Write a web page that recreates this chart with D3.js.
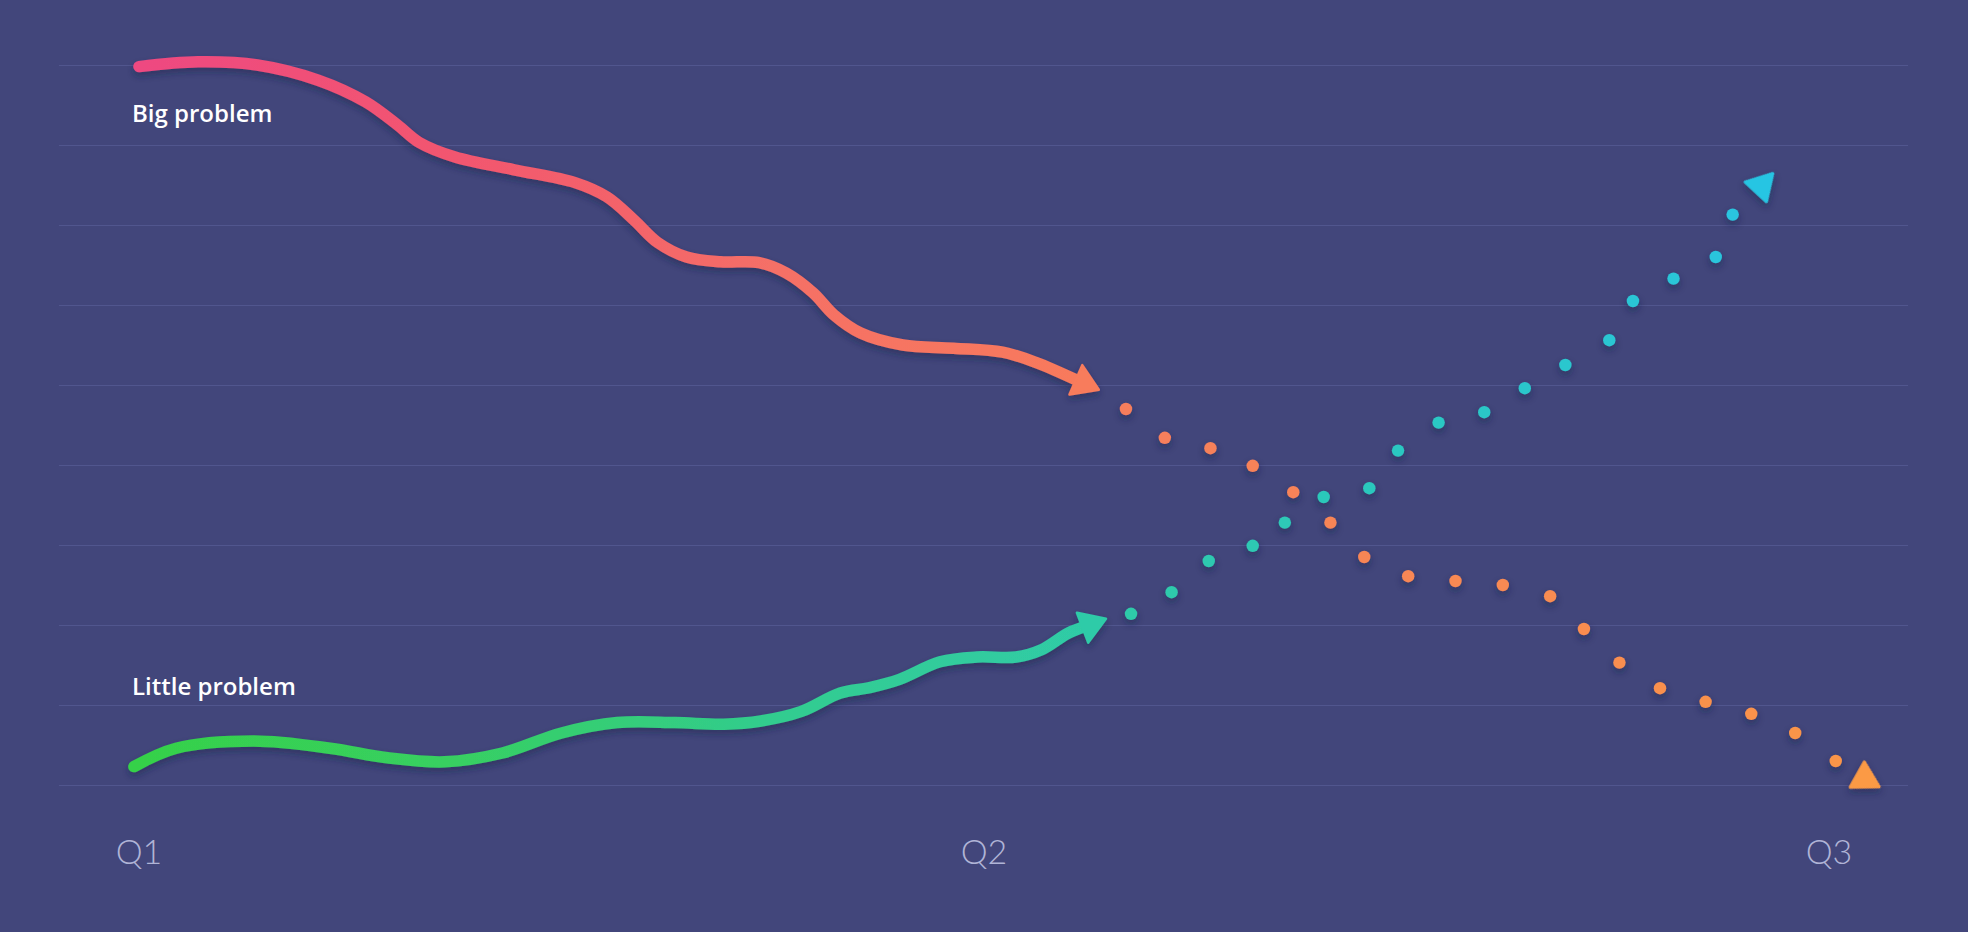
<!DOCTYPE html>
<html>
<head>
<meta charset="utf-8">
<script src="https://cdn.jsdelivr.net/npm/d3@7"></script>
<style>
  html, body { margin: 0; padding: 0; background: #42467b; }
  svg { display: block; }
</style>
</head>
<body>
<svg id="chart" width="1968" height="932"></svg>
<script>
// ---------- DATA ----------
const quarterLabels = ["Q1", "Q2", "Q3"];
const quarterValues = [0, 50, 100];
const gridValues = [0, 10, 20, 30, 40, 50, 60, 70, 80, 90];

const seriesNames = ["Big problem", "Little problem"];

// solid (past) trend of "Big problem"
const bigX = [0, 3.5, 7.0, 10.6, 13.4, 15.3, 16.6, 18.7, 22.2, 25.8, 27.7, 29.3, 30.7, 32.4, 34.4, 36.7, 38.3, 39.9, 41.1, 42.7, 45.2, 48.2, 51.1, 53.1, 55.6];
const bigY = [89.8, 90.4, 90.0, 88.1, 85.4, 82.5, 80.3, 78.5, 76.9, 75.3, 73.5, 70.6, 67.8, 66.0, 65.4, 65.3, 64.0, 61.5, 58.8, 56.5, 55.0, 54.6, 54.1, 52.8, 50.5];

// solid (past) trend of "Little problem"
const littleX = [-0.3, 2.2, 6.8, 11.3, 14.7, 18.1, 21.5, 25.0, 28.3, 31.7, 34.6, 36.8, 39.2, 41.5, 43.3, 45.0, 47.4, 49.6, 51.9, 53.4, 55.0, 56.0];
const littleY = [2.3, 4.6, 5.5, 4.6, 3.4, 2.9, 4.0, 6.5, 7.8, 7.8, 7.6, 8.0, 9.2, 11.5, 12.2, 13.2, 15.4, 16.0, 16.0, 16.9, 19.0, 19.8];

// dotted (projected) trend of "Big problem" (last point = arrow head)
const bigDotX = [58.4, 60.7, 63.4, 65.9, 68.3, 70.5, 72.5, 75.1, 77.9, 80.7, 83.5, 85.5, 87.6, 90.0, 92.7, 95.4, 98.0, 100.4, 102.1];
const bigDotY = [47.0, 43.4, 42.1, 39.9, 36.6, 32.8, 28.5, 26.1, 25.5, 25.0, 23.6, 19.5, 15.3, 12.1, 10.4, 8.9, 6.5, 3.0, 0.8];

// dotted (projected) trend of "Little problem" (last point = arrow head)
const littleDotX = [58.7, 61.1, 63.3, 65.9, 67.8, 70.1, 72.8, 74.5, 76.9, 79.6, 82.0, 84.4, 87.0, 88.4, 90.8, 93.3, 94.3, 96.0];
const littleDotY = [21.4, 24.1, 28.0, 29.9, 32.8, 36.0, 37.1, 41.8, 45.3, 46.6, 49.6, 52.5, 55.6, 60.5, 63.3, 66.0, 71.3, 74.9];

// ---------- STYLE / LAYOUT ----------
const W = 1968, H = 932;
const bg = "#42467b";
const gridColor = "#51568e";
const gridLeft = 59, gridRight = 1908;

const svg = d3.select("#chart");
svg.append("rect").attr("width", W).attr("height", H).attr("fill", bg);

const x = d3.scaleLinear().domain([0, 100]).range([139, 1829]);
const y = d3.scaleLinear().domain([0, 90]).range([785, 65]);

const defs = svg.append("defs");
const shadow = defs.append("filter").attr("id", "shadow")
  .attr("x", "-20%").attr("y", "-20%").attr("width", "140%").attr("height", "140%");
shadow.append("feDropShadow").attr("dx", 0).attr("dy", 4).attr("stdDeviation", 3.5)
  .attr("flood-color", "#1e2045").attr("flood-opacity", 0.45);

function grad(id, x1, x2, stops) {
  const g = defs.append("linearGradient").attr("id", id)
    .attr("gradientUnits", "userSpaceOnUse")
    .attr("x1", x1).attr("x2", x2).attr("y1", 0).attr("y2", 0);
  stops.forEach((c, i) => g.append("stop")
    .attr("offset", i / (stops.length - 1)).attr("stop-color", c));
}

// grid lines
svg.append("g").selectAll("line").data(gridValues).join("line")
  .attr("x1", gridLeft).attr("x2", gridRight)
  .attr("y1", d => y(d) + 0.5).attr("y2", d => y(d) + 0.5)
  .attr("stroke", gridColor).attr("stroke-width", 1.2);

// quarter axis labels
svg.append("g").selectAll("text").data(quarterValues).join("text")
  .attr("x", d => x(d)).attr("y", 864)
  .attr("text-anchor", "middle")
  .attr("font-family", "Lato, 'Open Sans', sans-serif")
  .attr("font-weight", 300)
  .attr("font-size", 34)
  .attr("fill", "#b0b4d6")
  .text((d, i) => quarterLabels[i]);

const line = d3.line().x(d => x(d[0])).y(d => y(d[1])).curve(d3.curveCatmullRom.alpha(0.5));

function drawTrend(xs, ys, gradId, stops, arrowColor) {
  const pts = xs.map((v, i) => [v, ys[i]]);
  grad(gradId, x(xs[0]), x(xs[xs.length - 1]) + 25, stops);
  const g = svg.append("g").attr("filter", "url(#shadow)");
  const p1 = pts[pts.length - 2], p2 = pts[pts.length - 1];
  const ax = x(p2[0]), ay = y(p2[1]);
  let dx = ax - x(p1[0]), dy = ay - y(p1[1]);
  const len = Math.hypot(dx, dy); dx /= len; dy /= len;
  const L = 25, Hw = 16;
  const bx = ax - dx * 3, by = ay - dy * 3;
  g.append("path").datum(pts)
    .attr("d", line)
    .attr("fill", "none")
    .attr("stroke", `url(#${gradId})`)
    .attr("stroke-width", 11.5)
    .attr("stroke-linecap", "round")
    .attr("stroke-linejoin", "round");
  const tri = [[bx + dx * L, by + dy * L], [bx - dy * Hw, by + dx * Hw], [bx + dy * Hw, by - dx * Hw]];
  g.append("path")
    .attr("d", "M" + tri.map(p => p.join(",")).join("L") + "Z")
    .attr("fill", arrowColor).attr("stroke", arrowColor)
    .attr("stroke-width", 2.5).attr("stroke-linejoin", "round");
}

drawTrend(bigX, bigY, "gBig", ["#ee4981", "#f2566f", "#f57066", "#f87b5b"], "#f87b5b");
drawTrend(littleX, littleY, "gLittle", ["#36d149", "#37cf62", "#32cc90", "#2fcba8"], "#2fcba8");

function drawDots(xs, ys, c0, c1, triColor) {
  const g = svg.append("g").attr("filter", "url(#shadow)");
  const n = xs.length - 1;
  const col = d3.interpolateRgb(c0, c1);
  const dots = d3.range(n).map(i => [xs[i], ys[i]]);
  g.selectAll("circle").data(dots).join("circle")
    .attr("cx", d => x(d[0])).attr("cy", d => y(d[1]))
    .attr("r", 6.2)
    .attr("fill", (d, i) => col(i / (n - 1)));
  const a = [x(xs[n - 3]), y(ys[n - 3])], b = [x(xs[n - 1]), y(ys[n - 1])];
  const ang = Math.atan2(b[1] - a[1], b[0] - a[0]) * 180 / Math.PI + 90;
  g.append("path")
    .attr("d", d3.symbol(d3.symbolTriangle, 360)())
    .attr("transform", `translate(${x(xs[n])},${y(ys[n])}) rotate(${ang})`)
    .attr("fill", triColor).attr("stroke", triColor)
    .attr("stroke-width", 3).attr("stroke-linejoin", "round");
}

drawDots(bigDotX, bigDotY, "#f67e5c", "#fa9549", "#fb9a44");
drawDots(littleDotX, littleDotY, "#2ecaa9", "#29c5df", "#28c5e3");

// series labels
const labelPos = [[132, 122], [132, 695]];
svg.append("g").selectAll("text").data(seriesNames).join("text")
  .attr("x", (d, i) => labelPos[i][0]).attr("y", (d, i) => labelPos[i][1])
  .attr("font-family", "'Open Sans', Lato, sans-serif")
  .attr("font-weight", 600)
  .attr("font-size", 24)
  .attr("fill", "#ffffff")
  .text(d => d);
</script>
</body>
</html>
